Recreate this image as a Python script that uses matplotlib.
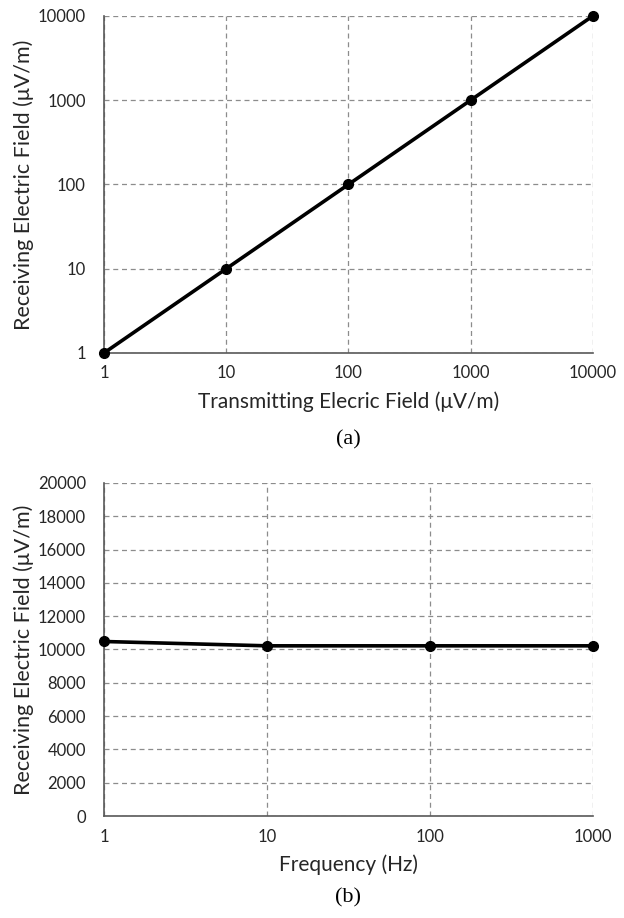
import numpy as np
import matplotlib.pyplot as plt
from matplotlib.ticker import FixedLocator, FixedFormatter, NullLocator

# panel (a): transmitting vs receiving field
tx_field = [1, 10, 100, 1000, 10000]
rx_field = [1, 10, 100, 1000, 10000]
a_ticks = [1, 10, 100, 1000, 10000]

# panel (b): receiving field vs frequency
freq = [1, 10, 100, 1000]
rx_freq = [10480, 10220, 10220, 10220]
b_xticks = [1, 10, 100, 1000]
b_yticks = list(range(0, 20001, 2000))

font = ['Lato', 'DejaVu Sans']
grid_col = '#8c8c8c'
txt_col = '#262626'

fig = plt.figure(figsize=(6.24, 9.18), dpi=100)
ax1 = fig.add_axes([0.1667, 0.6155, 0.7833, 0.3671])
ax2 = fig.add_axes([0.1667, 0.1111, 0.7833, 0.3628])


def style(ax):
    ax.grid(True, which='major', color=grid_col, linestyle=(0, (4, 3)), linewidth=0.9)
    ax.set_axisbelow(True)
    for s in ['top', 'right']:
        ax.spines[s].set_visible(False)
    for s in ['left', 'bottom']:
        ax.spines[s].set_color('#595959')
        ax.spines[s].set_linewidth(1.2)
    ax.tick_params(length=0, labelsize=12, colors=txt_col)
    ax.tick_params(axis='x', pad=9)
    ax.tick_params(axis='y', pad=13)
    ax.xaxis.set_minor_locator(NullLocator())
    ax.yaxis.set_minor_locator(NullLocator())
    for lab in ax.get_xticklabels() + ax.get_yticklabels():
        lab.set_family(font)


ax1.plot(tx_field, rx_field, color='black', lw=2.6, marker='o', ms=7, clip_on=False, zorder=5)
ax1.set_xscale('log')
ax1.set_yscale('log')
ax1.set_xlim(1, 10000)
ax1.set_ylim(1, 10000)
ax1.xaxis.set_major_locator(FixedLocator(a_ticks))
ax1.xaxis.set_major_formatter(FixedFormatter([str(t) for t in a_ticks]))
ax1.yaxis.set_major_locator(FixedLocator(a_ticks))
ax1.yaxis.set_major_formatter(FixedFormatter([str(t) for t in a_ticks]))
style(ax1)
ax1.set_xlabel('Transmitting Elecric Field (\u03bcV/m)', family=font, fontsize=15, color=txt_col, labelpad=7)
ax1.set_ylabel('Receiving Electric Field (\u03bcV/m)', family=font, fontsize=15.5, color=txt_col)
ax1.yaxis.set_label_coords(-0.143, 0.5)

ax2.plot(freq, rx_freq, color='black', lw=2.6, marker='o', ms=7, clip_on=False, zorder=5)
ax2.set_xscale('log')
ax2.set_xlim(1, 1000)
ax2.set_ylim(0, 20000)
ax2.xaxis.set_major_locator(FixedLocator(b_xticks))
ax2.xaxis.set_major_formatter(FixedFormatter([str(t) for t in b_xticks]))
ax2.yaxis.set_major_locator(FixedLocator(b_yticks))
ax2.yaxis.set_major_formatter(FixedFormatter([str(t) for t in b_yticks]))
style(ax2)
ax2.set_xlabel('Frequency (Hz)', family=font, fontsize=15, color=txt_col, labelpad=7)
ax2.set_ylabel('Receiving Electric Field (\u03bcV/m)', family=font, fontsize=15.5, color=txt_col)
ax2.yaxis.set_label_coords(-0.143, 0.5)

fig.text(0.558, 1 - 440 / 918, '(a)', family='Liberation Serif', fontsize=16, ha='center', va='center')
fig.text(0.558, 1 - 898 / 918, '(b)', family='Liberation Serif', fontsize=16, ha='center', va='center')

fig.savefig('out.png', dpi=100)
